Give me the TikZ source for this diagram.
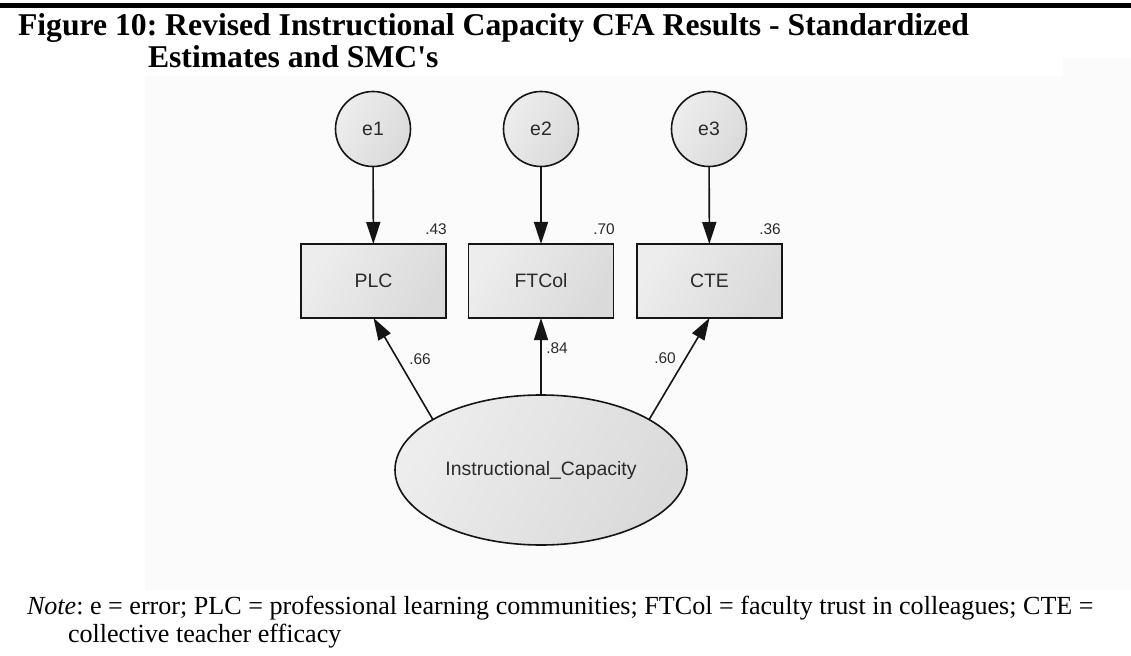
\documentclass[tikz,border=0pt]{standalone}
\usepackage{fontspec}
\setmainfont{Liberation Serif}
\newfontfamily\arialf{Liberation Sans}
\usetikzlibrary{arrows.meta,shapes.geometric}
\definecolor{panelc}{HTML}{FBFBFB}
\definecolor{shapelight}{HTML}{EDEDED}
\definecolor{shapedark}{HTML}{DADADA}
\definecolor{linec}{HTML}{151515}
\definecolor{txtc}{HTML}{2A2A2A}
\frenchspacing
\begin{document}
\begin{tikzpicture}[x=1bp,y=-1bp,
  every node/.style={inner sep=0pt, outer sep=0pt},
  semshape/.style={draw=linec, line width=1.6bp, left color=shapelight, right color=shapedark, shading angle=60, text=txtc, font=\arialf\fontsize{19.5}{22}\selectfont},
  errnode/.style={semshape, circle, minimum size=75bp},
  obsnode/.style={semshape, rectangle, minimum width=145bp, minimum height=74bp},
  latnode/.style={semshape, ellipse, minimum width=292bp, minimum height=150bp},
  arr/.style={draw=linec, line width=1.6bp, -{Triangle[length=22bp,width=14bp]}},
  lbl/.style={text=txtc, font=\arialf\fontsize{15.5}{18}\selectfont},
  titlef/.style={font=\bfseries\fontsize{31.8}{34}\selectfont, anchor=base west},
  notef/.style={font=\fontsize{26.2}{28}\selectfont, anchor=base west}
]
\useasboundingbox (0,0) rectangle (1131,656);
% faint background panel
\fill[panelc] (145,76) rectangle (1131,590);
\fill[panelc] (1063,58) rectangle (1131,76);
% top rule
\fill[black] (0,3) rectangle (1131,8);
% title
\node[titlef] (t1) at (18,36) {Figure 10: Revised Instructional Capacity CFA Results - Standardized};
\node[titlef] (t2) at (148,68) {Estimates and SMC\textquotesingle s};
% error terms
\node[errnode] (e1) at (373,129) {e1};
\node[errnode] (e2) at (541,129) {e2};
\node[errnode] (e3) at (709,129) {e3};
% observed
\node[obsnode] (PLC) at (373.5,281) {PLC};
\node[obsnode] (FTCol) at (541,281) {FTCol};
\node[obsnode] (CTE) at (709.5,281) {CTE};
% latent
\node[latnode] (IC) at (541,470) {Instructional\_Capacity};
% arrows
\draw[arr] (e1) -- (PLC);
\draw[arr] (e2) -- (FTCol);
\draw[arr] (e3) -- (CTE);
\draw[arr] (IC.155) -- (PLC.south);
\draw[arr] (IC.north) -- (FTCol.south);
\draw[arr] (IC.25) -- (CTE.south);
% estimates
\node[lbl] (r1) at (436,229) {.43};
\node[lbl] (r2) at (604,229) {.70};
\node[lbl] (r3) at (770,229) {.36};
\node[lbl] (l1) at (420,359) {.66};
\node[lbl] (l2) at (557,348) {.84};
\node[lbl] (l3) at (665,358) {.60};
% note
\node[notef] (n1) at (27,614) {\textit{Note}: e = error; PLC = professional learning communities; FTCol = faculty trust in colleagues; CTE =};
\node[notef] (n2) at (68,642) {collective teacher efficacy};
\end{tikzpicture}
\end{document}
